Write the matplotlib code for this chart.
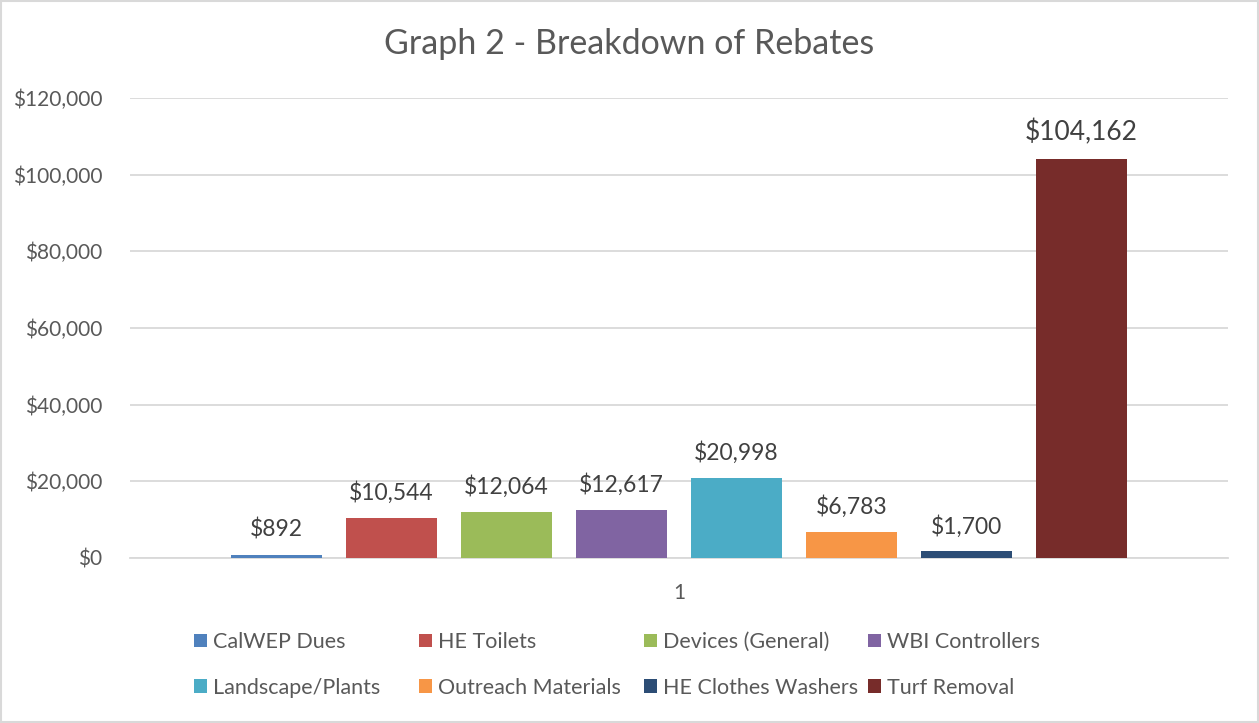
import matplotlib.pyplot as plt
from matplotlib.patches import Rectangle

categories = [
    "CalWEP Dues",
    "HE Toilets",
    "Devices (General)",
    "WBI Controllers",
    "Landscape/Plants",
    "Outreach Materials",
    "HE Clothes Washers",
    "Turf Removal",
]
values = [892, 10544, 12064, 12617, 20998, 6783, 1700, 104162]
colors = ["#4F81BD", "#C0504D", "#9BBB59", "#8064A2",
          "#4BACC6", "#F79646", "#2C4D75", "#772C2A"]
yticks = [0, 20000, 40000, 60000, 80000, 100000, 120000]

plt.rcParams["font.family"] = ["Lato", "DejaVu Sans"]
text_color = "#595959"

fig = plt.figure(figsize=(12.59, 7.23), dpi=100)
ax = fig.add_axes([130 / 1259, 1 - 558 / 723, 1098 / 1259, 460 / 723])

n = len(values)
xs = list(range(n))
bars = []
for i, (cat, v, c) in enumerate(zip(categories, values, colors)):
    b = ax.bar(xs[i], v, width=0.79, color=c, label=cat, zorder=3)
    bars.append(b)
    fs = 19 if v > 100000 else 16.5
    ax.annotate(f"${v:,}", (xs[i], v), xytext=(0, 10), textcoords="offset points",
                ha="center", va="bottom", fontsize=fs, color="#404040")

ax.set_xlim(3.5 - 4.775, 3.5 + 4.775)
ax.set_ylim(0, 120000)
ax.set_yticks(yticks)
ax.set_yticklabels([f"${t:,}" for t in yticks], fontsize=15, color=text_color)
ax.set_xticks([3.5])
ax.set_xticklabels(["1"], fontsize=15, color=text_color)
ax.tick_params(axis="y", length=0, pad=20)
ax.tick_params(axis="x", length=0, pad=18)
ax.grid(axis="y", color="#D9D9D9", linewidth=1.3, zorder=0)
for s in ["top", "right", "left"]:
    ax.spines[s].set_visible(False)
ax.spines["bottom"].set_color("#D9D9D9")
ax.spines["bottom"].set_linewidth(1.3)

fig.text(629 / 1259, 1 - 44 / 723, "Graph 2 - Breakdown of Rebates", ha="center",
         va="center", fontsize=24.5, color=text_color)

# legend: four equal-width columns, two rows
col_x = [194, 419, 644, 868]
for j in range(4):
    idx = [j, j + 4]
    leg = fig.legend(handles=[bars[k][0] for k in idx],
                     labels=[categories[k] for k in idx],
                     loc="center left", bbox_to_anchor=(col_x[j] / 1259, 1 - 665 / 723),
                     frameon=False, fontsize=15.5, handlelength=0.6, handleheight=0.6,
                     handletextpad=0.3, labelspacing=1.2, borderpad=0, borderaxespad=0)
    for t in leg.get_texts():
        t.set_color(text_color)

fig.patches.append(Rectangle((0.001, 0.001), 0.998, 0.998, transform=fig.transFigure,
                             fill=False, edgecolor="#D9D9D9", linewidth=1.5))

fig.savefig("out.png", dpi=100)
